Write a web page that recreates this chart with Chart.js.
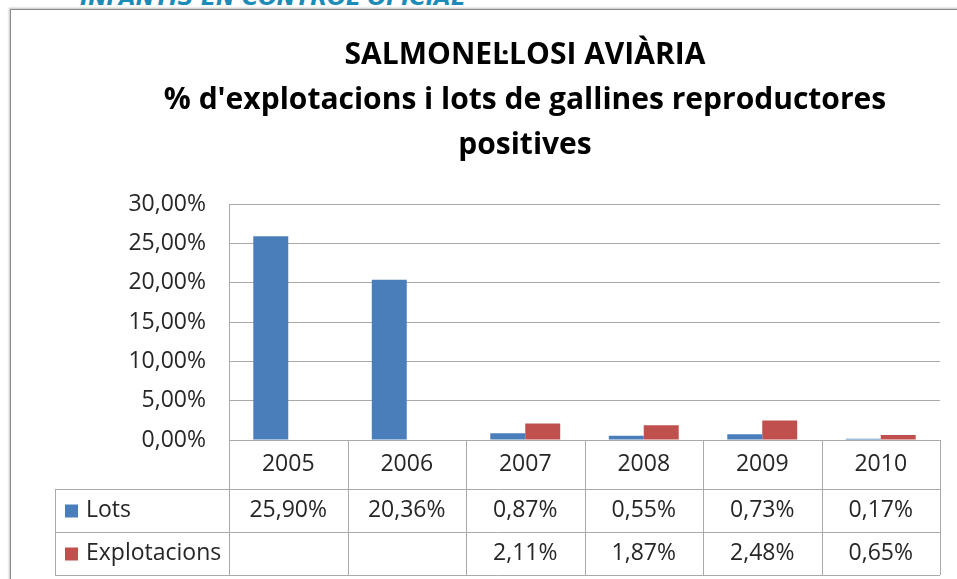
<!DOCTYPE html>
<html lang="ca">
<head>
    <meta charset="UTF-8">
    <title>Salmonel·losi aviària</title>
    <script src="https://cdn.jsdelivr.net/npm/chart.js"></script>
    <style>
        body {
            margin: 0;
            width: 957px;
            height: 579px;
            overflow: hidden;
            background: #ffffff;
            position: relative;
            font-family: 'Open Sans', sans-serif;
        }
        .heading {
            position: absolute;
            left: 80px;
            top: -13px;
            font: italic bold 22px 'DejaVu Sans', sans-serif;
            line-height: 1;
            color: #1b8bb8;
            white-space: nowrap;
        }
        .frame {
            position: absolute;
            left: 10px;
            top: 9px;
            width: 1000px;
            height: 620px;
            border: 1px solid #8a8a8a;
            box-shadow: -1px -1px 2px rgba(0, 0, 0, 0.25);
        }
        canvas {
            position: absolute;
            left: 0;
            top: 0;
        }
    </style>
</head>
<body>
    <div class="heading">INFANTIS EN CONTROL OFICIAL</div>
    <div class="frame"></div>
    <canvas id="salmChart" width="957" height="579"></canvas>

    <script>
        // Data
        const years = ['2005', '2006', '2007', '2008', '2009', '2010'];
        const lots = [25.90, 20.36, 0.87, 0.55, 0.73, 0.17];
        const explotacions = [null, null, 2.11, 1.87, 2.48, 0.65];
        const yTicks = [0, 5, 10, 15, 20, 25, 30];
        const titleLines = [
            'SALMONEL·LOSI AVIÀRIA',
            "% d'explotacions i lots de gallines reproductores",
            'positives'
        ];

        const blue = '#4a7ebb';
        const red = '#c0504d';
        const lineGray = '#a9a9a9';
        const textColor = '#262626';

        const pct = v => v.toFixed(2).replace('.', ',') + '%';

        // data table under the plot area (Excel style)
        const dataTable = {
            id: 'dataTable',
            afterDraw(chart) {
                const ctx = chart.ctx;
                const area = chart.chartArea;
                const x = chart.scales.x;
                const n = chart.data.labels.length;
                const colW = (area.right - area.left) / n;
                const rows = [area.bottom, 489, 532, 575];
                const legendLeft = 55;

                ctx.save();
                ctx.strokeStyle = lineGray;
                ctx.lineWidth = 1;
                ctx.beginPath();
                for (let r = 1; r < rows.length; r++) {
                    ctx.moveTo(legendLeft, rows[r] + 0.5);
                    ctx.lineTo(area.right, rows[r] + 0.5);
                }
                for (let i = 0; i <= n; i++) {
                    const xx = Math.round(area.left + i * colW) + 0.5;
                    ctx.moveTo(xx, rows[0]);
                    ctx.lineTo(xx, rows[3]);
                }
                ctx.moveTo(legendLeft + 0.5, rows[1]);
                ctx.lineTo(legendLeft + 0.5, rows[3]);
                ctx.stroke();

                ctx.fillStyle = textColor;
                ctx.font = '23px "Open Sans"';
                ctx.textAlign = 'center';
                ctx.textBaseline = 'middle';
                chart.data.labels.forEach((lab, i) => {
                    ctx.fillText(lab, x.getPixelForValue(i), (rows[0] + rows[1]) / 2);
                });

                chart.data.datasets.forEach((ds, d) => {
                    const cy = (rows[d + 1] + rows[d + 2]) / 2;
                    ctx.fillStyle = ds.backgroundColor;
                    ctx.fillRect(65, cy - 6, 13, 13);
                    ctx.fillStyle = textColor;
                    ctx.textAlign = 'left';
                    ctx.fillText(ds.label, 86, cy);
                    ctx.textAlign = 'center';
                    ds.data.forEach((v, i) => {
                        if (v === null) return;
                        ctx.fillText(pct(v), x.getPixelForValue(i), cy);
                    });
                });
                ctx.restore();
            }
        };

        const ctx = document.getElementById('salmChart').getContext('2d');
        new Chart(ctx, {
            type: 'bar',
            data: {
                labels: years,
                datasets: [
                    {
                        label: 'Lots',
                        data: lots,
                        backgroundColor: blue,
                        categoryPercentage: 0.59,
                        barPercentage: 1.0
                    },
                    {
                        label: 'Explotacions',
                        data: explotacions,
                        backgroundColor: red,
                        categoryPercentage: 0.59,
                        barPercentage: 1.0
                    }
                ]
            },
            options: {
                responsive: false,
                animation: false,
                layout: {
                    // left padding is larger so the title centres where the original did
                    padding: { left: 110, right: 17, top: 33, bottom: 139 }
                },
                scales: {
                    x: {
                        display: false
                    },
                    y: {
                        min: 0,
                        max: 30,
                        afterBuildTicks: s => { s.ticks = yTicks.map(v => ({ value: v })); },
                        afterFit: s => { s.width = 119; },
                        ticks: {
                            callback: v => pct(v),
                            color: textColor,
                            font: { family: 'Open Sans', size: 23 },
                            padding: 23
                        },
                        grid: {
                            color: lineGray,
                            drawTicks: false
                        },
                        border: {
                            display: true,
                            color: lineGray
                        }
                    }
                },
                plugins: {
                    legend: { display: false },
                    tooltip: { enabled: false },
                    title: {
                        display: true,
                        text: titleLines,
                        color: '#000000',
                        font: { family: 'Open Sans', size: 30, weight: 'bold', lineHeight: 45 / 30 },
                        padding: { top: 0, bottom: 36 }
                    }
                }
            },
            plugins: [dataTable]
        });
    </script>
</body>
</html>
